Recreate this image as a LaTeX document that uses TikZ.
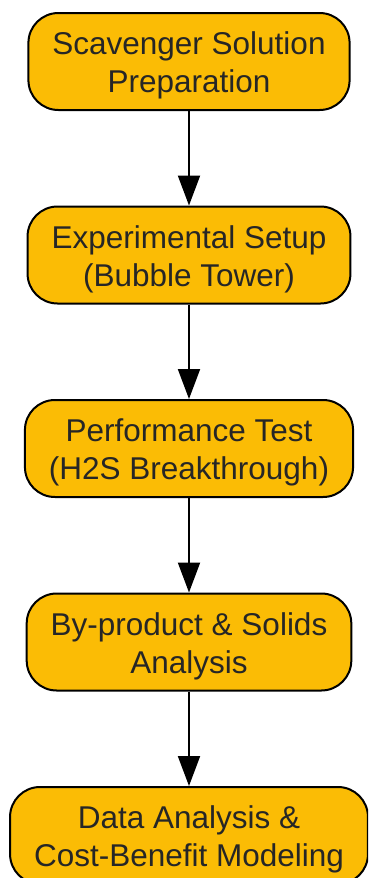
\documentclass[tikz,border=0pt]{standalone}
\usepackage{fontspec}
\setmainfont{Liberation Sans}
\usetikzlibrary{positioning,arrows.meta}
\definecolor{stepfill}{HTML}{FBBC05}
\definecolor{steptext}{HTML}{262626}
\newcommand{\lift}{\rule{0pt}{31pt}}% pushes the two lines a bit lower

\begin{document}
\begin{tikzpicture}[x=1pt,y=1pt,
		stepbox/.style={draw=black, line width=2pt, fill=stepfill, rounded corners=30pt,
			minimum height=97pt, inner xsep=24pt, align=center, text=steptext,
			font=\fontsize{31.5}{38}\selectfont},
		flow/.style={line width=2pt, -{Triangle[length=30pt,width=22pt]}},
		node distance=94.5pt]
		\useasboundingbox (0,0) rectangle (368,-878);% Fixes the page size
		\clip (0,0) rectangle (368,-878);

		\node[stepbox] (prep)   at (189,-61.5) {\lift Scavenger Solution\\Preparation};
		\node[stepbox, below=of prep]  (setup)  {\lift Experimental Setup\\(Bubble Tower)};
		\node[stepbox, below=of setup] (test)   {\lift Performance Test\\(H2S Breakthrough)};
		\node[stepbox, below=of test]  (solids) {\lift By-product \& Solids\\Analysis};
		\node[stepbox, below=of solids] (model) {\lift Data Analysis \&\\Cost-Benefit Modeling};

		\draw[flow] (prep) -- (setup);% Arrows between the steps
		\draw[flow] (setup) -- (test);
		\draw[flow] (test) -- (solids);
		\draw[flow] (solids) -- (model);
	  \end{tikzpicture}
\end{document}
